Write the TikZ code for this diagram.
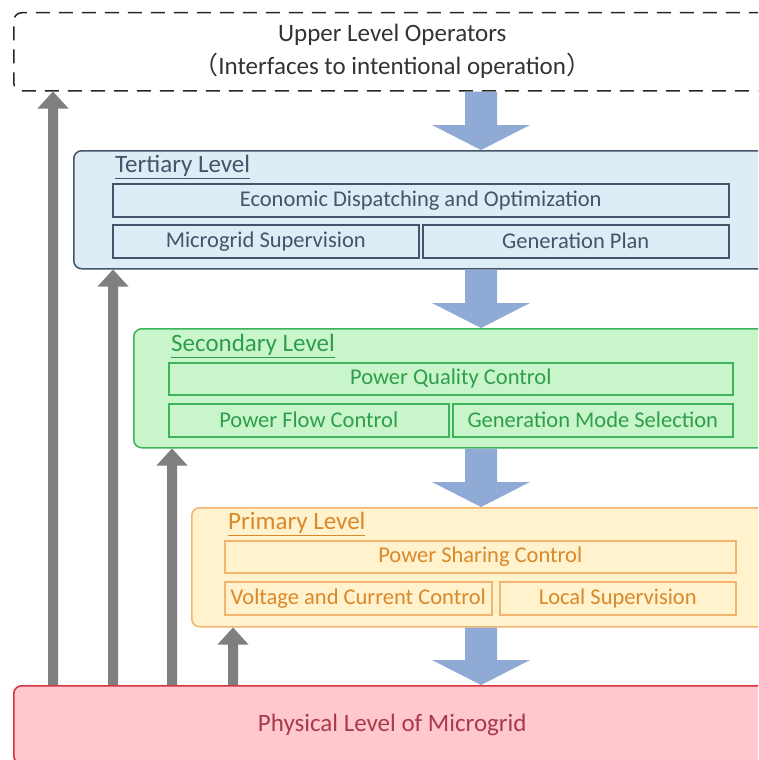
\documentclass[tikz,border=0pt]{standalone}
\usepackage{fontspec}
\setmainfont{Carlito}
\newfontfamily\cjk{Noto Sans CJK SC}
\usetikzlibrary{calc}
\definecolor{tfill}{HTML}{DEECF6}
\definecolor{tdraw}{HTML}{44546A}
\definecolor{sfill}{HTML}{C8F5CA}
\definecolor{sdraw}{HTML}{3DB35C}
\definecolor{stext}{HTML}{2E9E4C}
\definecolor{pfill}{HTML}{FFF2CC}
\definecolor{pdraw}{HTML}{F2B46E}
\definecolor{ptext}{HTML}{D9892C}
\definecolor{hfill}{HTML}{FFC7CE}
\definecolor{hdraw}{HTML}{D9303B}
\definecolor{htext}{HTML}{A83A4A}
\definecolor{barrow}{HTML}{8FAAD4}
\definecolor{garrow}{HTML}{7F7F7F}
\newcommand\vblock[6]{\fill[#1] let \p1=(#2), \p2=(#3) in
  (\x1-#4,\y1) -- (\x1+#4,\y1) -- (\x1+#4,\y2+#6) -- (\x1+#5,\y2+#6) -- (\x1,\y2)
  -- (\x1-#5,\y2+#6) -- (\x1-#4,\y2+#6) -- cycle;}
\begin{document}
\begin{tikzpicture}[x=1pt,y=-1pt,
  lvl/.style={draw, rounded corners=8pt, line width=1.5pt, inner sep=0pt, anchor=north west},
  sub/.style={draw, line width=1.5pt, inner sep=0pt, anchor=north west, font=\fontsize{22.5}{26}\selectfont},
  ttl/.style={anchor=west, inner sep=0pt, font=\fontsize{25}{28}\selectfont}]
\useasboundingbox (0,0) rectangle (758,760);
\clip (0,0) rectangle (758,760);
% upper level
\node[lvl, draw=black!85, dash pattern=on 14pt off 9pt, minimum width=757pt, minimum height=78pt,
  align=center, text=black!80, font=\fontsize{25}{33}\selectfont] (up) at (13,12)
  {Upper Level Operators\\{\cjk （}Interfaces to intentional operation{\cjk ）}};
% tertiary
\node[lvl, draw=tdraw, fill=tfill, minimum width=697pt, minimum height=118pt] (ter) at (73,150) {};
\node[ttl, text=tdraw] (tt) at (115,167) {\underline{Tertiary Level}};
\node[sub, draw=tdraw, text=tdraw, minimum width=616pt, minimum height=33pt] (t1) at (112,183) {Economic Dispatching and Optimization};
\node[sub, draw=tdraw, text=tdraw, minimum width=306pt, minimum height=33pt] (t2) at (112,224) {Microgrid Supervision};
\node[sub, draw=tdraw, text=tdraw, minimum width=306pt, minimum height=33pt] (t3) at (422,224) {Generation Plan};
% secondary
\node[lvl, draw=sdraw, fill=sfill, minimum width=637pt, minimum height=119pt] (sec) at (133,328) {};
\node[ttl, text=stext] (st) at (171,346) {\underline{Secondary Level}};
\node[sub, draw=sdraw, text=stext, minimum width=564pt, minimum height=32pt] (s1) at (168,362) {Power Quality Control};
\node[sub, draw=sdraw, text=stext, minimum width=280pt, minimum height=33pt] (s2) at (168,403) {Power Flow Control};
\node[sub, draw=sdraw, text=stext, minimum width=280pt, minimum height=33pt] (s3) at (452,403) {Generation Mode Selection};
% primary
\node[lvl, draw=pdraw, fill=pfill, minimum width=579pt, minimum height=119pt] (pri) at (191,507) {};
\node[ttl, text=ptext] (pt) at (228,524) {\underline{Primary Level}};
\node[sub, draw=pdraw, text=ptext, minimum width=511pt, minimum height=32pt] (p1) at (224,540) {Power Sharing Control};
\node[sub, draw=pdraw, text=ptext, minimum width=267pt, minimum height=33pt] (p2) at (224,581) {Voltage and Current Control};
\node[sub, draw=pdraw, text=ptext, minimum width=236pt, minimum height=33pt] (p3) at (499,581) {Local Supervision};
% physical
\node[lvl, draw=hdraw, fill=hfill, minimum width=757pt, minimum height=78pt, text=htext,
  font=\fontsize{25}{28}\selectfont] (phy) at (13,685) {Physical Level of Microgrid};
% block arrows (down)
\coordinate (bx) at (481,0);
\vblock{barrow}{up.south -| bx}{ter.north -| bx}{16pt}{49pt}{25pt}
\vblock{barrow}{ter.south -| bx}{sec.north -| bx}{16pt}{49pt}{25pt}
\vblock{barrow}{sec.south -| bx}{pri.north -| bx}{16pt}{49pt}{25pt}
\vblock{barrow}{pri.south -| bx}{phy.north -| bx}{16pt}{49pt}{25pt}
% feedback arrows (up)
\coordinate (g1) at (53,0);
\coordinate (g2) at (113,0);
\coordinate (g3) at (172,0);
\coordinate (g4) at (233,0);
\vblock{garrow}{phy.north -| g1}{up.south -| g1}{5pt}{15.5pt}{-17pt}
\vblock{garrow}{phy.north -| g2}{ter.south -| g2}{5pt}{15.5pt}{-17pt}
\vblock{garrow}{phy.north -| g3}{sec.south -| g3}{5pt}{15.5pt}{-17pt}
\vblock{garrow}{phy.north -| g4}{pri.south -| g4}{5pt}{15.5pt}{-17pt}
\end{tikzpicture}
\end{document}
